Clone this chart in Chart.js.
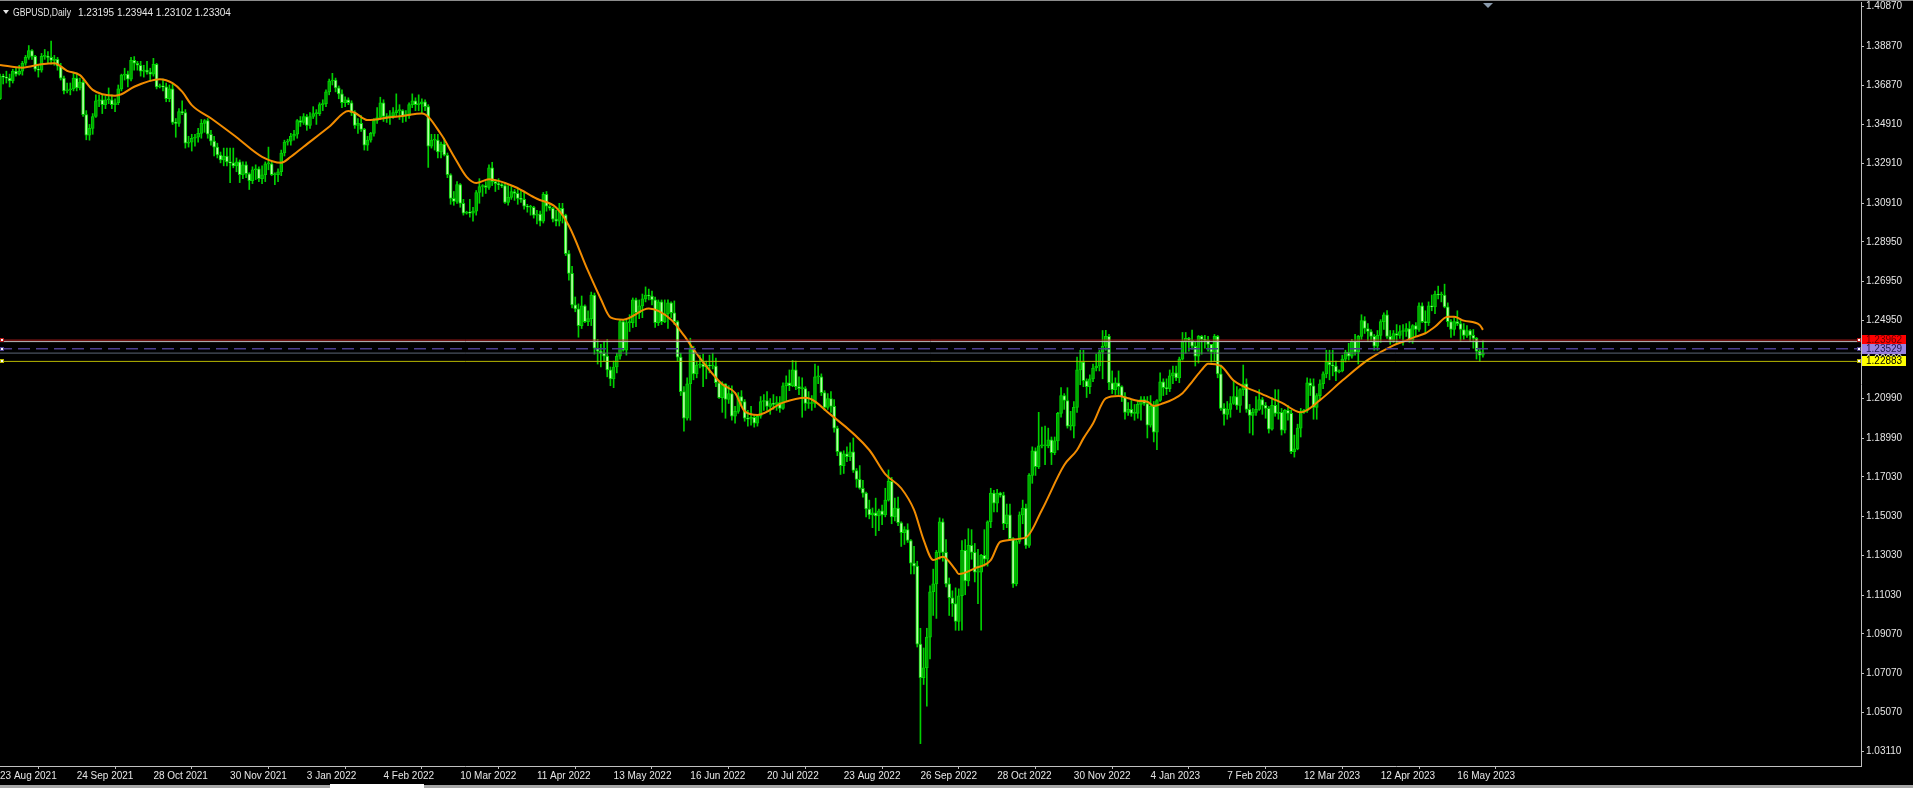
<!DOCTYPE html>
<html>
<head>
<meta charset="utf-8">
<title>GBPUSD,Daily</title>
<script src="https://cdn.jsdelivr.net/npm/chart.js@4"></script>
<style>
  html, body { margin: 0; padding: 0; background: #000; overflow: hidden; }
  #wrap { position: relative; width: 1913px; height: 788px; }
</style>
</head>
<body>
<div id="wrap"><canvas id="chart" width="1913" height="788"></canvas></div>
<script>
// Symbol and current quote shown in the header
const symbolLabel = 'GBPUSD,Daily';
const quoteLabel = ['1.23195', '1.23944', '1.23102', '1.23304'];

// Daily bars in 1/10000 units, one line per 24 bars (from 23 Aug 2021)
const opens = [
  13620,13735,13730,13725,13710,13760,13745,13760,13800,13830,13865,13835,13770,13765,13835,13835,13830,13815,13820,13785,13725,13660,13665,13670,
  13725,13675,13705,13540,13435,13470,13530,13610,13615,13590,13615,13615,13590,13600,13670,13740,13745,13720,13815,13800,13790,13760,13765,13755,
  13745,13795,13680,13685,13680,13620,13670,13500,13495,13555,13550,13395,13400,13420,13425,13445,13495,13510,13440,13405,13375,13335,13310,13330,
  13300,13295,13280,13300,13235,13285,13240,13205,13260,13265,13215,13235,13290,13290,13235,13235,13250,13345,13400,13405,13430,13440,13510,13500,
  13530,13485,13530,13545,13545,13590,13595,13655,13710,13715,13675,13645,13600,13615,13600,13550,13485,13495,13465,13385,13410,13445,13510,13525,
  13600,13530,13525,13535,13550,13560,13560,13535,13535,13590,13610,13590,13595,13605,13580,13380,13410,13410,13350,13390,13335,13235,13115,13100,
  13185,13090,13040,13045,13040,13050,13145,13175,13180,13170,13270,13200,13190,13185,13180,13095,13120,13150,13140,13115,13110,13075,13070,13070,
  13030,13035,13000,13135,13075,13065,13010,13000,13065,13030,12835,12735,12575,12555,12470,12570,12490,12505,12625,12355,12340,12330,12315,12245,
  12200,12260,12315,12490,12345,12485,12485,12600,12535,12570,12605,12625,12620,12600,12485,12590,12490,12530,12585,12535,12490,12310,12135,12000,
  12175,12350,12225,12270,12275,12260,12270,12265,12265,12180,12105,12175,12095,12125,12010,12035,12110,12085,12000,11995,12005,11975,12010,12085,
  12090,12060,12075,12070,12080,12050,12165,12180,12165,12245,12160,12150,12150,12075,12075,12075,12210,12210,12130,12055,12100,12060,11950,11830,
  11760,11820,11805,11830,11735,11690,11645,11620,11540,11510,11520,11505,11530,11510,11585,11680,11500,11545,11470,11420,11435,11380,11265,11250,
  10855,10685,10735,10890,11120,11160,11320,11475,11320,11160,11090,11060,10970,11100,11330,11175,11355,11320,11220,11220,11305,11285,11475,11620,
  11570,11620,11610,11465,11510,11390,11160,11375,11510,11545,11355,11710,11835,11755,11860,11860,11860,11890,11825,11885,12025,12115,12090,11960,
  11960,12055,12245,12285,12190,12160,12200,12255,12265,12335,12365,12415,12180,12145,12180,12160,12110,12030,12045,12025,12025,12070,12095,12075,
  11965,12060,11930,12090,12185,12155,12150,12215,12230,12205,12300,12390,12405,12395,12365,12315,12415,12400,12395,12375,12335,12415,12225,12050,
  12020,12045,12075,12110,12065,12145,12175,12045,12015,12030,12045,12095,12065,12050,11945,12065,12025,12030,11940,12040,12025,11830,11845,11950,
  12030,12040,12180,12165,12055,12115,12175,12225,12285,12270,12265,12235,12240,12300,12335,12315,12390,12335,12415,12495,12455,12440,12415,12365,
  12420,12490,12525,12415,12395,12430,12420,12440,12440,12455,12395,12470,12450,12570,12490,12485,12570,12565,12630,12625,12625,12565,12490,12450,
  12490,12480,12450,12420,12445,12420,12405,12340,12320
];
const highs = [
  13745,13745,13760,13745,13770,13780,13790,13810,13840,13890,13870,13840,13790,13850,13870,13860,13913,13840,13830,13800,13735,13700,13700,13750,
  13750,13725,13715,13560,13490,13545,13640,13640,13640,13635,13675,13640,13620,13690,13745,13775,13760,13830,13834,13810,13810,13790,13810,13775,
  13825,13800,13695,13720,13700,13690,13695,13520,13570,13610,13565,13430,13440,13440,13470,13515,13515,13520,13460,13430,13395,13350,13370,13370,
  13370,13370,13320,13310,13300,13300,13245,13275,13285,13275,13280,13300,13375,13305,13245,13265,13360,13410,13415,13445,13460,13515,13530,13545,
  13540,13550,13580,13565,13600,13615,13665,13720,13749,13725,13685,13665,13630,13625,13610,13560,13520,13535,13470,13430,13450,13520,13575,13628,
  13615,13545,13560,13575,13645,13590,13565,13560,13600,13645,13625,13640,13620,13615,13590,13440,13440,13440,13400,13420,13345,13240,13150,13200,
  13190,13110,13050,13110,13070,13155,13215,13185,13200,13285,13298,13210,13215,13190,13195,13180,13175,13160,13165,13155,13145,13085,13080,13075,
  13055,13050,13145,13150,13090,13070,13055,13090,13090,13035,12850,12770,12615,12580,12620,12575,12545,12640,12635,12400,12375,12390,12400,12260,
  12290,12330,12500,12500,12500,12525,12610,12610,12600,12630,12666,12655,12645,12615,12600,12600,12600,12600,12590,12595,12495,12330,12160,12205,
  12406,12365,12290,12320,12325,12290,12320,12330,12305,12185,12185,12175,12165,12165,12060,12130,12140,12095,12040,12060,12015,12020,12110,12120,
  12135,12100,12120,12110,12110,12180,12215,12245,12293,12290,12210,12205,12160,12135,12115,12275,12265,12225,12140,12125,12135,12095,11960,11830,
  11835,11855,11875,11900,11745,11760,11685,11625,11585,11545,11595,11540,11560,11645,11738,11700,11595,11600,11475,11450,11465,11385,11350,11275,
  10935,10835,10935,11150,11235,11330,11495,11490,11385,11190,11125,11140,11135,11380,11385,11440,11435,11365,11335,11310,11435,11480,11645,11635,
  11640,11625,11625,11565,11565,11395,11385,11525,11585,11565,11720,11855,11850,12030,11955,11960,11950,11905,11905,12030,12155,12125,12155,12035,
  12085,12310,12345,12345,12200,12220,12275,12325,12345,12445,12446,12425,12240,12205,12240,12165,12130,12080,12090,12070,12090,12110,12110,12110,
  12115,12085,12095,12230,12200,12200,12245,12265,12265,12310,12435,12435,12410,12447,12385,12420,12420,12420,12415,12375,12425,12420,12270,12075,
  12085,12110,12190,12160,12150,12270,12200,12070,12050,12110,12145,12105,12080,12060,12105,12145,12145,12050,12045,12065,12040,11915,11970,12050,
  12045,12205,12200,12200,12125,12195,12235,12345,12345,12345,12290,12245,12320,12345,12380,12400,12425,12420,12525,12515,12480,12450,12425,12445,
  12500,12535,12546,12445,12445,12475,12470,12475,12480,12490,12475,12485,12585,12585,12545,12590,12625,12645,12670,12640,12680,12585,12500,12510,
  12545,12500,12480,12470,12450,12450,12410,12355,12394
];
const lows = [
  13615,13695,13700,13680,13700,13735,13740,13740,13790,13820,13820,13760,13730,13755,13820,13800,13795,13790,13765,13715,13645,13650,13640,13660,
  13660,13665,13530,13412,13410,13440,13525,13580,13545,13570,13595,13570,13555,13590,13660,13715,13680,13710,13765,13765,13735,13730,13745,13710,
  13735,13670,13675,13660,13605,13605,13490,13425,13480,13540,13370,13375,13355,13380,13400,13420,13450,13420,13385,13330,13320,13295,13280,13280,
  13195,13270,13250,13195,13215,13220,13160,13190,13210,13200,13190,13200,13260,13230,13185,13200,13230,13330,13385,13385,13410,13420,13480,13490,
  13460,13470,13520,13490,13535,13560,13580,13640,13690,13655,13620,13575,13580,13590,13535,13470,13445,13455,13360,13358,13400,13430,13495,13515,
  13505,13500,13490,13520,13530,13515,13500,13505,13520,13575,13560,13560,13550,13560,13272,13370,13360,13320,13320,13330,13220,13085,13080,13090,
  13070,13030,13035,13020,13000,13030,13090,13125,13140,13160,13180,13150,13160,13170,13090,13080,13110,13105,13085,13095,13060,13045,13030,13015,
  12985,12975,12990,13050,13055,12995,12975,12975,12990,12825,12700,12560,12540,12411,12455,12485,12470,12470,12325,12275,12260,12290,12210,12165,
  12155,12230,12300,12340,12320,12440,12460,12465,12505,12510,12590,12600,12575,12460,12470,12475,12485,12455,12510,12475,12290,12115,11934,11990,
  11990,12195,12205,12255,12160,12200,12230,12250,12160,12100,12030,12000,12075,11990,11975,12025,12060,11985,11960,11965,11955,11960,12000,12040,
  12040,12020,12045,12040,12030,12045,12085,12140,12160,12145,12120,12005,12040,12050,12040,12055,12175,12115,12040,12045,12030,11930,11810,11715,
  11720,11780,11785,11725,11650,11640,11600,11500,11490,11445,11405,11430,11460,11500,11580,11465,11480,11455,11350,11360,11370,11210,11210,10840,
  10350,10650,10540,10780,11000,10985,11285,11275,11145,11000,10995,10925,10924,10925,11105,11150,11285,11170,11060,10925,11250,11250,11445,11525,
  11525,11600,11435,11445,11380,11142,11150,11365,11465,11340,11345,11670,11710,11745,11850,11765,11850,11765,11815,11840,12005,12045,11950,11940,
  11900,12030,12170,12160,12105,12125,12185,12240,12240,12200,12345,12145,12125,12120,12120,12085,11995,12015,12010,11990,12000,11990,12065,11900,
  11955,11880,11841,12085,12115,12120,12135,12175,12190,12180,12295,12330,12340,12350,12265,12280,12325,12355,12340,12285,12290,12205,12040,11965,
  11995,12005,12070,12045,12030,12115,12030,11925,11915,12015,12040,12020,12000,11925,11940,12010,11995,11915,11925,11990,11820,11803,11840,11905,
  12025,12030,12115,11995,11995,12095,12150,12205,12195,12215,12190,12230,12235,12285,12295,12305,12320,12275,12400,12430,12390,12390,12345,12345,
  12385,12450,12405,12375,12385,12380,12405,12370,12415,12385,12380,12415,12440,12485,12435,12470,12545,12530,12605,12590,12560,12465,12410,12420,
  12470,12390,12400,12410,12390,12355,12300,12288,12310
];
const closes = [
  13735,13730,13725,13710,13760,13745,13760,13800,13830,13865,13835,13770,13765,13835,13835,13830,13815,13820,13785,13725,13660,13665,13670,13725,
  13675,13705,13540,13435,13470,13530,13610,13615,13590,13615,13615,13590,13600,13670,13740,13745,13720,13815,13800,13790,13760,13765,13755,13745,
  13795,13680,13685,13680,13620,13670,13500,13495,13555,13550,13395,13400,13420,13425,13445,13495,13510,13440,13405,13375,13335,13310,13330,13300,
  13295,13280,13300,13235,13285,13240,13205,13260,13265,13215,13235,13290,13290,13235,13235,13250,13345,13400,13405,13430,13440,13510,13500,13530,
  13485,13530,13545,13545,13590,13595,13655,13710,13715,13675,13645,13600,13615,13600,13550,13485,13495,13465,13385,13410,13445,13510,13525,13600,
  13530,13525,13535,13550,13560,13560,13535,13535,13590,13610,13590,13595,13605,13580,13380,13410,13410,13350,13390,13335,13235,13115,13100,13185,
  13090,13040,13045,13040,13050,13145,13175,13180,13170,13270,13200,13190,13185,13180,13095,13120,13150,13140,13115,13110,13075,13070,13070,13030,
  13035,13000,13135,13075,13065,13010,13000,13065,13030,12835,12735,12575,12555,12470,12570,12490,12505,12625,12355,12340,12330,12315,12245,12200,
  12260,12315,12490,12345,12485,12485,12600,12535,12570,12605,12625,12620,12600,12485,12590,12490,12530,12585,12535,12490,12310,12135,12000,12175,
  12350,12225,12270,12275,12260,12270,12265,12265,12180,12105,12175,12095,12125,12010,12035,12110,12085,12000,11995,12005,11975,12010,12085,12090,
  12060,12075,12070,12080,12050,12165,12180,12165,12245,12160,12150,12150,12075,12075,12075,12210,12210,12130,12055,12100,12060,11950,11830,11760,
  11820,11805,11830,11735,11690,11645,11620,11540,11510,11520,11505,11530,11510,11585,11680,11500,11545,11470,11420,11435,11380,11265,11250,10855,
  10685,10735,10890,11120,11160,11320,11475,11320,11160,11090,11060,10970,11100,11330,11175,11355,11320,11220,11220,11305,11285,11475,11620,11570,
  11620,11610,11465,11510,11390,11160,11375,11510,11545,11355,11710,11835,11755,11860,11860,11860,11890,11825,11885,12025,12115,12090,11960,11960,
  12055,12245,12285,12190,12160,12200,12255,12265,12335,12365,12415,12180,12145,12180,12160,12110,12030,12045,12025,12025,12070,12095,12075,11965,
  12060,11930,12090,12185,12155,12150,12215,12230,12205,12300,12390,12405,12395,12365,12315,12415,12400,12395,12375,12335,12415,12225,12050,12020,
  12045,12075,12110,12065,12145,12175,12045,12015,12030,12045,12095,12065,12050,11945,12065,12025,12030,11940,12040,12025,11830,11845,11950,12030,
  12040,12180,12165,12055,12115,12175,12225,12285,12270,12265,12235,12240,12300,12335,12315,12390,12335,12415,12495,12455,12440,12415,12365,12420,
  12490,12525,12415,12395,12430,12420,12440,12440,12455,12395,12470,12450,12570,12490,12485,12570,12565,12630,12625,12625,12565,12490,12450,12490,
  12480,12450,12420,12445,12420,12405,12340,12320,12330
];
const priceUnit = 10000;

// Orange moving average at these bars
const maBars = [0,7,13,17,21,25,29,36,38,42,50,54,57,60,66,74,82,88,91,95,103,109,111,115,122,126,132,138,142,146,149,153,161,168,174,178,184,188,191,195,203,210,214,218,226,230,233,237,245,252,260,272,277,282,286,289,292,295,299,300,305,310,313,321,326,333,337,339,342,346,350,353,356,359,361,364,367,370,373,376,378,382,386,394,401,407,413,420,428,436,439,443,446,449,453,455,458,463,464];
const maValues = [1.3791,1.3778,1.3795,1.3800,1.3762,1.3740,1.3665,1.3636,1.3643,1.3681,1.3719,1.3699,1.3656,1.3588,1.3521,1.3425,1.3326,1.3296,1.3326,1.3377,1.3478,1.3558,1.3549,1.3512,1.3526,1.3533,1.3546,1.3440,1.3329,1.3224,1.3193,1.3212,1.3174,1.3113,1.3069,1.2976,1.2747,1.2605,1.2512,1.2500,1.2556,1.2500,1.2420,1.2327,1.2172,1.2129,1.2036,1.2017,1.2079,1.2104,1.2017,1.1839,1.1717,1.1645,1.1535,1.1383,1.1281,1.1298,1.1231,1.1210,1.1239,1.1281,1.1374,1.1396,1.1535,1.1763,1.1839,1.1898,1.1974,1.2101,1.2113,1.2101,1.2089,1.2084,1.2062,1.2076,1.2096,1.2127,1.2185,1.2245,1.2277,1.2265,1.2191,1.2129,1.2079,1.2030,1.2092,1.2191,1.2296,1.2370,1.2388,1.2414,1.2431,1.2464,1.2515,1.2515,1.2495,1.2473,1.2448];

// Horizontal price levels
const levelPrices = [1.23962, 1.23529, 1.22883];
const levelLabels = ['1.23962', '1.23529', '1.22883'];
const guidePrice = 1.23887;
const bidPrice = 1.23304;

// Axis labels
const tickBars = [0,24,48,72,96,120,144,168,192,216,240,264,288,312,336,360,384,408,432,456];
const tickLabels = ['23 Aug 2021','24 Sep 2021','28 Oct 2021','30 Nov 2021','3 Jan 2022','4 Feb 2022','10 Mar 2022','11 Apr 2022','13 May 2022','16 Jun 2022','20 Jul 2022','23 Aug 2022','26 Sep 2022','28 Oct 2022','30 Nov 2022','4 Jan 2023','7 Feb 2023','12 Mar 2023','12 Apr 2023','16 May 2023'];
const priceTicks = [1.40870,1.38870,1.36870,1.34910,1.32910,1.30910,1.28950,1.26950,1.24950,1.22990,1.20990,1.18990,1.17030,1.15030,1.13030,1.11030,1.09070,1.07070,1.05070,1.03110];

// Visible window
const xMin = 0, xMax = 582.3;
const yMin = 1.02366, yMax = 1.41108;

// Build the candle tables for Chart.js
const wickData = [];
const bodyData = [];
const bodyFill = [];
for (let i = 0; i < closes.length; i++) {
    wickData.push({ x: i, y: [lows[i] / priceUnit, highs[i] / priceUnit] });
    bodyData.push({ x: i, y: [opens[i] / priceUnit, closes[i] / priceUnit] });
    // rising bars are solid green, falling bars pale
    bodyFill.push(closes[i] >= opens[i] ? '#00a400' : '#b6ffa4');
}
const maData = maBars.map((b, k) => ({ x: b, y: maValues[k] }));

function flatLine(p) {
    return [{ x: xMin, y: p }, { x: xMax, y: p }];
}

const levelStyle = [
    { line: '#b81c1c', box: '#ff0000', text: '#600000', dash: [] },
    { line: '#4c3e8e', box: '#9a82e0', text: '#20184a', dash: [12, 6] },
    { line: '#b8b800', box: '#ffff00', text: '#000000', dash: [] }
];

// fit a text into a given width by squeezing it horizontally
function squeezeText(ctx, text, x, y, width) {
    const w = ctx.measureText(text).width;
    const k = Math.min(1, width / w);
    ctx.save();
    ctx.translate(x, y);
    ctx.scale(k, 1);
    ctx.fillText(text, 0, 0);
    ctx.restore();
}

// Chrome: header, price boxes, window frame bits
const terminalChrome = {
    id: 'terminalChrome',
    afterDraw(chart) {
        const ctx = chart.ctx;
        const area = chart.chartArea;
        const yScale = chart.scales.y;
        ctx.save();

        // top frame line and shift marker
        ctx.fillStyle = '#8c8c8c';
        ctx.fillRect(0, 0, 1913, 1);
        ctx.fillStyle = '#8a9aac';
        ctx.beginPath();
        ctx.moveTo(1483, 3); ctx.lineTo(1493, 3); ctx.lineTo(1488, 8);
        ctx.closePath(); ctx.fill();

        // header
        ctx.fillStyle = '#e6e6e6';
        ctx.beginPath();
        ctx.moveTo(3, 10); ctx.lineTo(9, 10); ctx.lineTo(6, 14);
        ctx.closePath(); ctx.fill();
        ctx.font = '10px "Liberation Sans"';
        ctx.textBaseline = 'alphabetic';
        squeezeText(ctx, symbolLabel, 13, 16, 58);
        ctx.fillText(quoteLabel.join(' '), 78, 16);

        // price boxes on the axis
        levelPrices.forEach((p, k) => {
            const y = Math.round(yScale.getPixelForValue(p));
            const st = levelStyle[k];
            ctx.fillStyle = st.box;
            ctx.fillRect(area.right + 1, y - 5, 44, 10);
            ctx.fillStyle = st.text;
            ctx.textBaseline = 'middle';
            ctx.fillText(levelLabels[k], area.right + 5, y + 0.5);
            // anchor squares at both ends of the line
            [area.left, area.right - 4].forEach(x0 => {
                ctx.fillStyle = '#ffffff';
                ctx.fillRect(x0, y - 2, 4, 4);
                ctx.strokeStyle = st.line;
                ctx.lineWidth = 1;
                ctx.strokeRect(x0 + 0.5, y - 1.5, 3, 3);
            });
        });

        // tab strip at the bottom
        ctx.fillStyle = '#a6a6a6';
        ctx.fillRect(0, 785, 1913, 3);
        ctx.fillStyle = '#ffffff';
        ctx.fillRect(330, 784, 94, 4);
        ctx.restore();
    }
};

Chart.defaults.font.family = '"Liberation Sans", Arial, sans-serif';
Chart.defaults.font.size = 10;
Chart.defaults.color = '#e6e6e6';

new Chart(document.getElementById('chart'), {
    type: 'bar',
    data: {
        datasets: [
            { type: 'line', data: flatLine(levelPrices[0]), borderColor: levelStyle[0].line, borderWidth: 1, pointRadius: 0, order: 0 },
            { type: 'line', data: flatLine(guidePrice), borderColor: '#bcbcbc', borderWidth: 1, pointRadius: 0, order: 0 },
            { type: 'line', data: flatLine(levelPrices[1]), borderColor: levelStyle[1].line, borderWidth: 1.5, borderDash: levelStyle[1].dash, pointRadius: 0, order: 0 },
            { type: 'line', data: flatLine(bidPrice), borderColor: '#5c6676', borderWidth: 1, pointRadius: 0, order: 0 },
            { type: 'line', data: flatLine(levelPrices[2]), borderColor: levelStyle[2].line, borderWidth: 1, pointRadius: 0, order: 0 },
            {
                type: 'line', data: maData, borderColor: '#f28c00', borderWidth: 2,
                pointRadius: 0, cubicInterpolationMode: 'monotone', order: 1
            },
            {
                type: 'bar', data: bodyData, backgroundColor: bodyFill,
                borderColor: '#00d400', borderWidth: 1, borderSkipped: false,
                barThickness: 3, minBarLength: 1, grouped: false, order: 2
            },
            {
                type: 'bar', data: wickData, backgroundColor: '#00d000',
                barThickness: 1, grouped: false, order: 3
            }
        ]
    },
    options: {
        responsive: false,
        animation: false,
        events: [],
        layout: { padding: { top: 2, left: 0, right: 0, bottom: 0 } },
        plugins: { legend: { display: false }, tooltip: { enabled: false } },
        scales: {
            x: {
                type: 'linear', min: xMin, max: xMax, offset: false,
                grid: { drawOnChartArea: false, drawTicks: true, tickLength: 3, color: '#c0c0c0' },
                border: { display: true, color: '#c0c0c0' },
                ticks: {
                    align: 'start', maxRotation: 0, autoSkip: false, padding: 1, color: '#e6e6e6',
                    callback: (v, idx) => tickLabels[idx]
                },
                afterBuildTicks: s => { s.ticks = tickBars.map(v => ({ value: v })); },
                afterFit: s => { s.height = 22; s.paddingLeft = 0; s.paddingRight = 0; }
            },
            y: {
                type: 'linear', position: 'right', min: yMin, max: yMax,
                grid: { drawOnChartArea: false, drawTicks: true, tickLength: 3, color: '#c0c0c0' },
                border: { display: true, color: '#c0c0c0' },
                ticks: { autoSkip: false, padding: 2, color: '#e6e6e6', callback: v => v.toFixed(5) },
                afterBuildTicks: s => { s.ticks = priceTicks.map(v => ({ value: v })); },
                afterFit: s => { s.width = 52; s.paddingTop = 0; s.paddingBottom = 0; }
            }
        }
    },
    plugins: [terminalChrome]
});
</script>
</body>
</html>
